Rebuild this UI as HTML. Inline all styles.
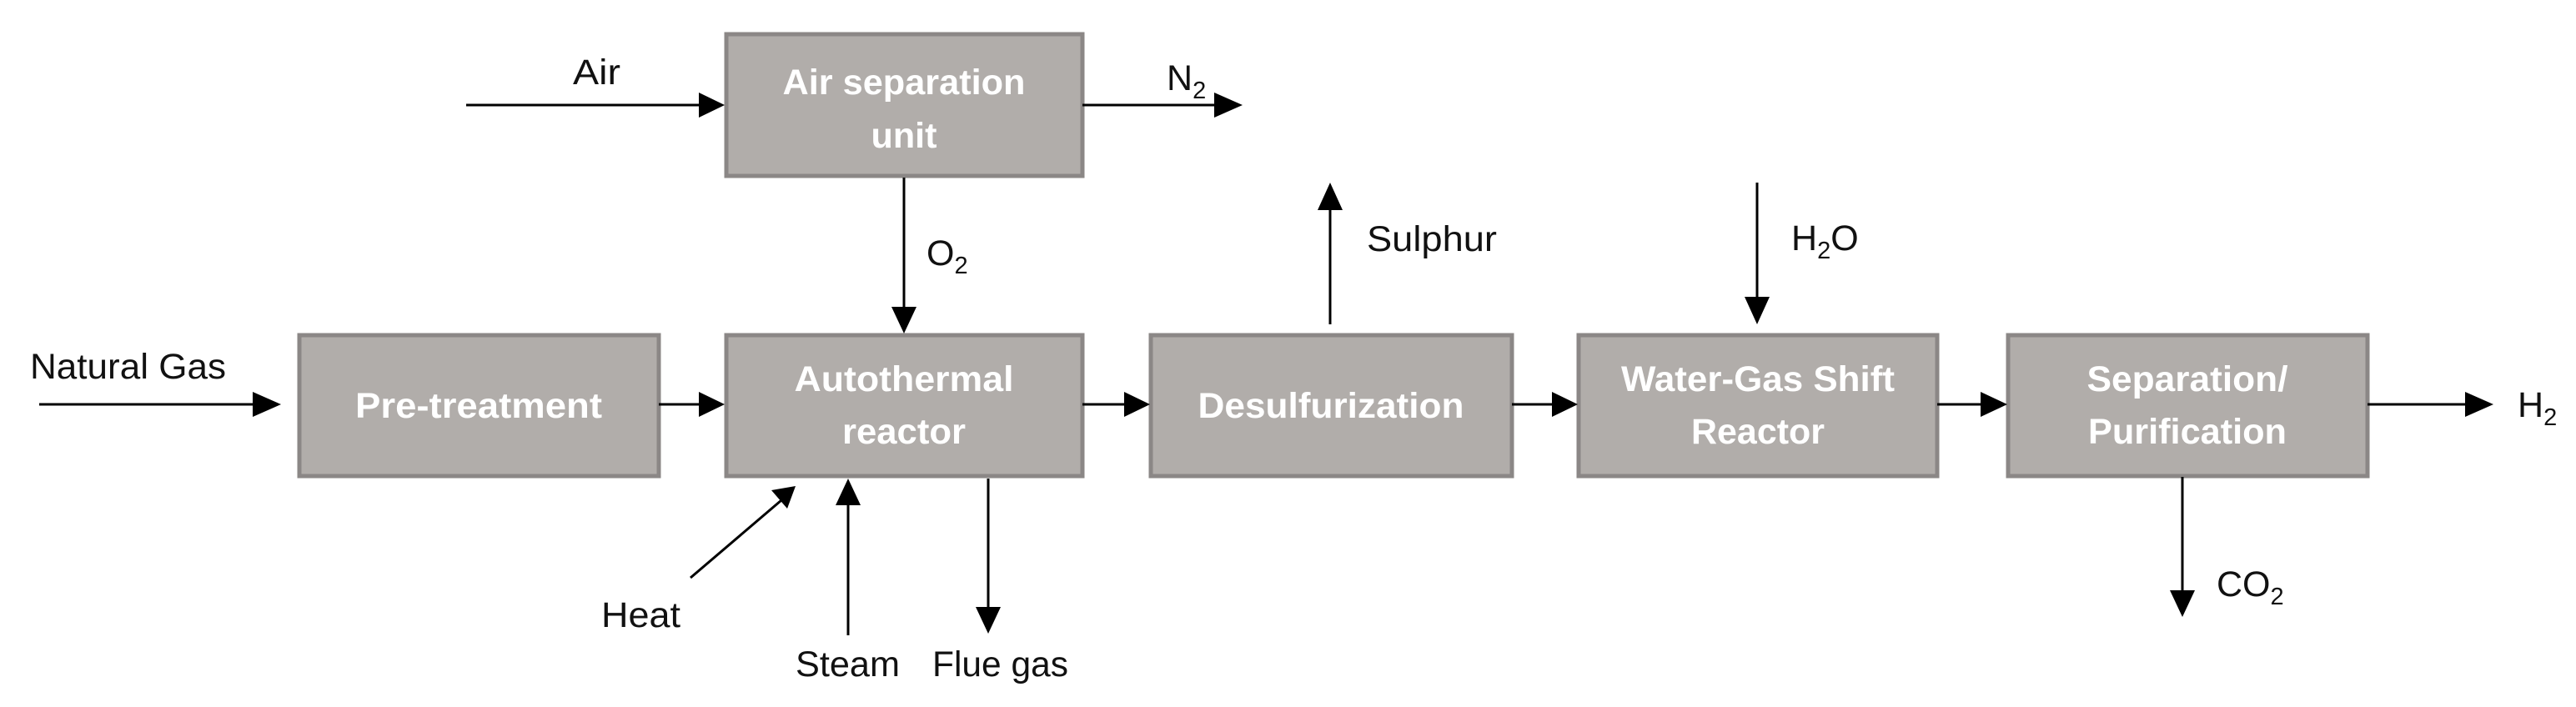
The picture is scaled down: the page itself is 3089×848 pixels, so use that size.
<!DOCTYPE html>
<html><head><style>
html,body{margin:0;padding:0;background:#fff;}
svg{display:block;}
.b{fill:#b1adaa;stroke:#8b8786;stroke-width:5;}
.t{font-family:"Liberation Sans",sans-serif;font-size:43px;fill:#fff;font-weight:bold;text-anchor:middle;}
.l{font-family:"Liberation Sans",sans-serif;font-size:43px;fill:#111;}
.s{font-size:29px;}
</style></head><body>
<svg width="3089" height="848" viewBox="0 0 3089 848" xmlns="http://www.w3.org/2000/svg">
<rect class="b" x="871" y="41" width="427" height="170"/>
<rect class="b" x="359" y="402" width="431" height="169"/>
<rect class="b" x="871" y="402" width="427" height="169"/>
<rect class="b" x="1380" y="402" width="433" height="169"/>
<rect class="b" x="1893" y="402" width="430" height="169"/>
<rect class="b" x="2408" y="402" width="431" height="169"/>
<text class="t" x="1084" y="113" textLength="291" lengthAdjust="spacingAndGlyphs">Air separation</text>
<text class="t" x="1084" y="177" textLength="79" lengthAdjust="spacingAndGlyphs">unit</text>
<text class="t" x="574" y="501" textLength="296" lengthAdjust="spacingAndGlyphs">Pre-treatment</text>
<text class="t" x="1084" y="469" textLength="263" lengthAdjust="spacingAndGlyphs">Autothermal</text>
<text class="t" x="1084" y="532" textLength="148" lengthAdjust="spacingAndGlyphs">reactor</text>
<text class="t" x="1596" y="501" textLength="319" lengthAdjust="spacingAndGlyphs">Desulfurization</text>
<text class="t" x="2108" y="469" textLength="328" lengthAdjust="spacingAndGlyphs">Water-Gas Shift</text>
<text class="t" x="2108" y="532" textLength="160" lengthAdjust="spacingAndGlyphs">Reactor</text>
<text class="t" x="2623" y="469" textLength="241" lengthAdjust="spacingAndGlyphs">Separation/</text>
<text class="t" x="2623" y="532" textLength="238" lengthAdjust="spacingAndGlyphs">Purification</text>
<g>
<path d="M47,485 H305" stroke="#000" stroke-width="3"/><path d="M303,470 L337,485 L303,500Z"/>
<path d="M790,485 H840" stroke="#000" stroke-width="3"/><path d="M838,470 L869,485 L838,500Z"/>
<path d="M1298,485 H1350" stroke="#000" stroke-width="3"/><path d="M1348,470 L1379,485 L1348,500Z"/>
<path d="M1813,485 H1863" stroke="#000" stroke-width="3"/><path d="M1861,470 L1892,485 L1861,500Z"/>
<path d="M2323,485 H2377" stroke="#000" stroke-width="3"/><path d="M2375,470 L2407,485 L2375,500Z"/>
<path d="M2839,485 H2958" stroke="#000" stroke-width="3"/><path d="M2956,470 L2990,485 L2956,500Z"/>
<path d="M559,126 H840" stroke="#000" stroke-width="3"/><path d="M838,111 L869,126 L838,141Z"/>
<path d="M1298,126 H1458" stroke="#000" stroke-width="3"/><path d="M1456,111 L1490,126 L1456,141Z"/>
<path d="M1084,213 V370" stroke="#000" stroke-width="3"/><path d="M1069,368 L1084,400 L1099,368Z"/>
<path d="M1017,762 V604" stroke="#000" stroke-width="3"/><path d="M1002,606 L1017,574 L1032,606Z"/>
<path d="M1185,574 V730" stroke="#000" stroke-width="3"/><path d="M1170,728 L1185,760 L1200,728Z"/>
<path d="M1595,389 V250" stroke="#000" stroke-width="3"/><path d="M1580,252 L1595,219 L1610,252Z"/>
<path d="M2107,219 V358" stroke="#000" stroke-width="3"/><path d="M2092,356 L2107,389 L2122,356Z"/>
<path d="M2617,572 V710" stroke="#000" stroke-width="3"/><path d="M2602,708 L2617,740 L2632,708Z"/>
<path d="M828,693 L937,600" stroke="#000" stroke-width="3"/><path d="M925,588 L954,583 L944,610Z"/>
</g>
<text class="l" x="36" y="454" textLength="235" lengthAdjust="spacingAndGlyphs">Natural Gas</text>
<text class="l" x="687" y="101" textLength="57" lengthAdjust="spacingAndGlyphs">Air</text>
<text class="l" x="1399" y="108">N<tspan class="s" dy="10">2</tspan></text>
<text class="l" x="1111" y="318">O<tspan class="s" dy="10">2</tspan></text>
<text class="l" x="721" y="752" textLength="95" lengthAdjust="spacingAndGlyphs">Heat</text>
<text class="l" x="954" y="811" textLength="125" lengthAdjust="spacingAndGlyphs">Steam</text>
<text class="l" x="1118" y="811" textLength="163" lengthAdjust="spacingAndGlyphs">Flue gas</text>
<text class="l" x="1639" y="301" textLength="156" lengthAdjust="spacingAndGlyphs">Sulphur</text>
<text class="l" x="2148" y="300">H<tspan class="s" dy="10">2</tspan><tspan dy="-10">O</tspan></text>
<text class="l" x="3019" y="500">H<tspan class="s" dy="10">2</tspan></text>
<text class="l" x="2658" y="715">CO<tspan class="s" dy="10">2</tspan></text>
</svg>
</body></html>
